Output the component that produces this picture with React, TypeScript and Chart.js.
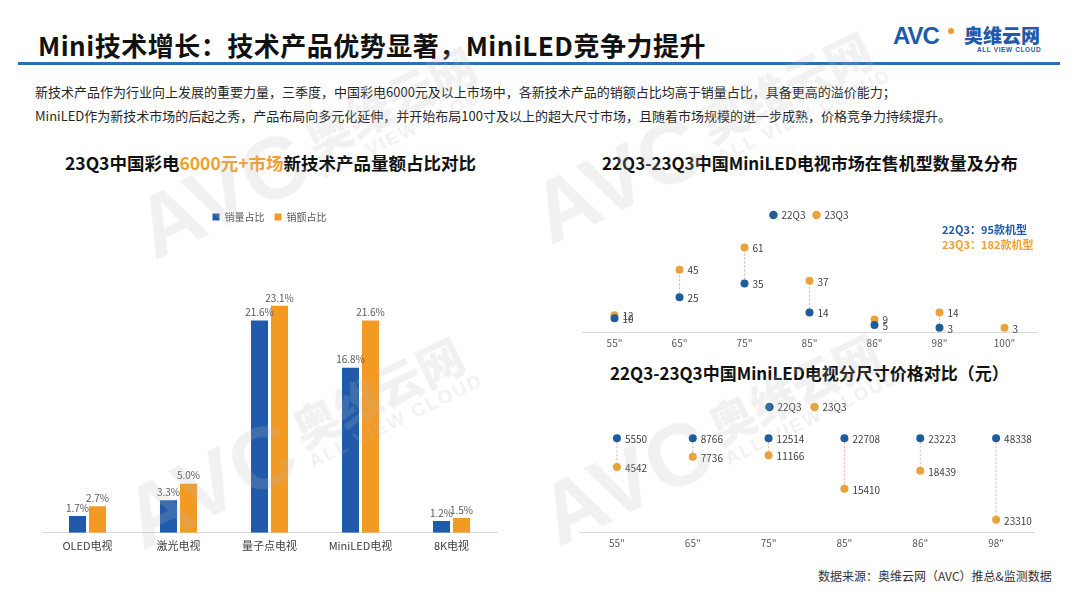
import React, { useEffect, useRef } from 'react';
import { Chart, registerables } from 'chart.js';

Chart.register(...registerables);

const FONT = "'Noto Sans CJK SC', 'Noto Sans', sans-serif";

// ---- Left chart: 23Q3 share of new-tech products in 6000+ yuan market ----
const barCategories = ['OLED电视', '激光电视', '量子点电视', 'MiniLED电视', '8K电视'];
const barSeriesNames = ['销量占比', '销额占比'];
const volumeShare = [1.7, 3.3, 21.6, 16.8, 1.2];
const valueShare = [2.7, 5.0, 23.1, 21.6, 1.5];

// ---- Right top: MiniLED model counts by size ----
const periodNames = ['22Q3', '23Q3'];
const countSizes = ['55"', '65"', '75"', '85"', '86"', '98"', '100"'];
const count22Q3 = [10, 25, 35, 14, 5, 3, null];
const count23Q3 = [12, 45, 61, 37, 9, 14, 3];
const modelTotals = ['22Q3：95款机型', '23Q3：182款机型'];

// ---- Right bottom: MiniLED price by size ----
const priceSizes = ['55"', '65"', '75"', '85"', '86"', '98"'];
const price22Q3 = [5550, 8766, 12514, 22708, 23223, 48338];
const price23Q3 = [4542, 7736, 11166, 15410, 18439, 23310];

const BLUE = '#1F5BAA';
const ORANGE = '#F29A22';
const DOT_BLUE = '#1E5C9C';
const DOT_ORANGE = '#E8A33C';

const barLabelPlugin = {
  id: 'barLabels',
  afterDatasetsDraw(chart: any) {
    const ctx = chart.ctx;
    ctx.save();
    ctx.font = `10px ${FONT}`;
    ctx.fillStyle = '#595959';
    ctx.textAlign = 'center';
    ctx.textBaseline = 'bottom';
    chart.data.datasets.forEach((ds: any, di: number) => {
      chart.getDatasetMeta(di).data.forEach((el: any, i: number) => {
        const v = ds.data[i];
        if (v == null) return;
        ctx.fillText(Number(v).toFixed(1) + '%', el.x, el.y - 3);
      });
    });
    ctx.restore();
  },
};

const pointLabelPlugin = {
  id: 'pointLabels',
  afterDatasetsDraw(chart: any) {
    const ctx = chart.ctx;
    ctx.save();
    ctx.font = `10px ${FONT}`;
    ctx.fillStyle = '#404040';
    ctx.textAlign = 'left';
    ctx.textBaseline = 'middle';
    chart.data.datasets.forEach((ds: any, di: number) => {
      chart.getDatasetMeta(di).data.forEach((el: any, i: number) => {
        const lab = ds.labelValues ? ds.labelValues[i] : ds.data[i];
        if (lab == null || el.skip) return;
        ctx.fillText(String(lab), el.x + 8, el.y + 1);
      });
    });
    ctx.restore();
  },
};

const connectorPlugin = {
  id: 'connectors',
  beforeDatasetsDraw(chart: any) {
    const a = chart.getDatasetMeta(0).data;
    const b = chart.getDatasetMeta(1).data;
    const ctx = chart.ctx;
    ctx.save();
    ctx.strokeStyle = '#F0A8A8';
    ctx.lineWidth = 1;
    ctx.setLineDash([2, 2]);
    a.forEach((p: any, i: number) => {
      const q = b[i];
      if (!p || !q || p.skip || q.skip) return;
      ctx.beginPath();
      ctx.moveTo(p.x, p.y);
      ctx.lineTo(q.x, q.y);
      ctx.stroke();
    });
    ctx.restore();
  },
};

function barConfig(): any {
  return {
    type: 'bar',
    data: {
      labels: barCategories,
      datasets: [
        { label: barSeriesNames[0], data: volumeShare, backgroundColor: BLUE, categoryPercentage: 0.44, barPercentage: 0.85 },
        { label: barSeriesNames[1], data: valueShare, backgroundColor: ORANGE, categoryPercentage: 0.44, barPercentage: 0.85 },
      ],
    },
    options: {
      animation: false,
      responsive: true,
      maintainAspectRatio: false,
      layout: { padding: { left: 12, right: 13, top: 0, bottom: 2 } },
      plugins: {
        legend: {
          position: 'top',
          labels: { boxWidth: 7, boxHeight: 7, padding: 10, color: '#595959', font: { size: 10, family: FONT } },
        },
        tooltip: { enabled: false },
      },
      scales: {
        x: {
          grid: { display: false, drawTicks: false },
          border: { display: true, color: '#D9D9D9' },
          ticks: { color: '#404040', padding: 6, font: { size: 11, family: FONT } },
        },
        y: { display: false, min: 0, max: 30.6 },
      },
    },
    plugins: [barLabelPlugin],
  };
}

function dotConfig(labels: string[], d0: any[], d1: any[], l0: any, l1: any, yMin: number, yMax: number, pad: any, legendPad: number): any {
  return {
    type: 'line',
    data: {
      labels,
      datasets: [
        { label: periodNames[0], data: d0, labelValues: l0, showLine: false, pointRadius: 4, pointHoverRadius: 4, pointBorderWidth: 0, backgroundColor: DOT_BLUE, borderColor: DOT_BLUE, pointBackgroundColor: DOT_BLUE },
        { label: periodNames[1], data: d1, labelValues: l1, showLine: false, pointRadius: 4, pointHoverRadius: 4, pointBorderWidth: 0, backgroundColor: DOT_ORANGE, borderColor: DOT_ORANGE, pointBackgroundColor: DOT_ORANGE },
      ],
    },
    options: {
      animation: false,
      responsive: true,
      maintainAspectRatio: false,
      layout: { padding: pad },
      plugins: {
        legend: {
          position: 'top',
          labels: { usePointStyle: true, pointStyle: 'circle', boxWidth: 6, boxHeight: 6, padding: legendPad, color: '#404040', font: { size: 10, family: FONT } },
        },
        tooltip: { enabled: false },
      },
      scales: {
        x: {
          offset: true,
          grid: { display: false, drawTicks: false },
          border: { display: true, color: '#D9D9D9' },
          ticks: { color: '#595959', padding: 5, font: { size: 10, family: FONT } },
        },
        y: { display: false, min: yMin, max: yMax },
      },
    },
    plugins: [connectorPlugin, pointLabelPlugin],
  };
}

function ChartBox({ left, top, width, height, make }: any) {
  const ref = useRef<HTMLCanvasElement>(null);
  useEffect(() => {
    const chart = new Chart(ref.current as HTMLCanvasElement, make());
    return () => chart.destroy();
  }, []);
  return (
    <div style={{ position: 'absolute', left, top, width, height }}>
      <canvas ref={ref} />
    </div>
  );
}

function Watermark({ cx, cy }: any) {
  return (
    <div
      style={{
        position: 'absolute',
        left: cx,
        top: cy,
        transform: 'translate(-50%, -50%) rotate(-26deg)',
        color: 'rgba(185,185,185,0.2)',
        whiteSpace: 'nowrap',
        pointerEvents: 'none',
        display: 'flex',
        alignItems: 'center',
        fontFamily: FONT,
      }}
    >
      <span style={{ fontSize: 88, fontWeight: 900, fontFamily: "'Liberation Sans', sans-serif", lineHeight: 1 }}>AVC</span>
      <div style={{ marginLeft: 10, display: 'flex', flexDirection: 'column' }}>
        <span style={{ fontSize: 46, fontWeight: 900, lineHeight: 1.1 }}>奥维云网</span>
        <span style={{ fontSize: 19, fontWeight: 700, letterSpacing: 2, fontFamily: "'Liberation Sans', sans-serif" }}>ALL VIEW CLOUD</span>
      </div>
    </div>
  );
}

const abs = (left: number, top: number, extra: any = {}) => ({ position: 'absolute' as const, left, top, whiteSpace: 'nowrap' as const, ...extra });

export default function App() {
  // price of each size relative to its 22Q3 price (vertical placement used by the reference chart)
  const priceRel22 = price22Q3.map((v, i) => v / price22Q3[i]);
  const priceRel23 = price23Q3.map((v, i) => v / price22Q3[i]);

  return (
    <div style={{ position: 'absolute', left: 0, top: 0, width: 1080, height: 608, background: '#FFFFFF', overflow: 'hidden', fontFamily: FONT, color: '#262626' }}>
      {/* header */}
      <div style={abs(38, 30, { fontSize: 26, fontWeight: 700, lineHeight: '30px', color: '#111', letterSpacing: 0.5 })}>
        Mini技术增长：技术产品优势显著，MiniLED竞争力提升
      </div>
      <div style={abs(893, 23, { fontSize: 24, fontWeight: 900, lineHeight: '26px', color: BLUE, fontFamily: "'Liberation Sans', sans-serif", letterSpacing: -1 })}>AVC</div>
      <div style={abs(948, 28, { width: 6, height: 6, borderRadius: 3, background: ORANGE })} />
      <div style={abs(964, 24, { fontSize: 19, fontWeight: 900, lineHeight: '22px', color: BLUE })}>奥维云网</div>
      <div style={abs(977, 46, { fontSize: 6.5, fontWeight: 700, lineHeight: '8px', color: BLUE, fontFamily: "'Liberation Sans', sans-serif", letterSpacing: 0.6 })}>ALL VIEW CLOUD</div>
      <div style={abs(18, 62, { width: 1042, height: 3, background: '#2F6EB5' })} />

      <div style={abs(35, 82, { fontSize: 13, lineHeight: '20px' })}>
        新技术产品作为行业向上发展的重要力量，三季度，中国彩电6000元及以上市场中，各新技术产品的销额占比均高于销量占比，具备更高的溢价能力；
      </div>
      <div style={abs(35, 106, { fontSize: 13, lineHeight: '20px' })}>
        MiniLED作为新技术市场的后起之秀，产品布局向多元化延伸，并开始布局100寸及以上的超大尺寸市场，且随着市场规模的进一步成熟，价格竞争力持续提升。
      </div>

      {/* chart titles */}
      <div style={abs(65, 151, { fontSize: 17.5, fontWeight: 700, lineHeight: '24px', color: '#111' })}>
        23Q3中国彩电<span style={{ color: '#F0A030' }}>6000元+市场</span>新技术产品量额占比对比
      </div>
      <div style={abs(602, 151, { fontSize: 17, fontWeight: 700, lineHeight: '24px', color: '#111' })}>
        22Q3-23Q3中国MiniLED电视市场在售机型数量及分布
      </div>
      <div style={abs(610, 361, { fontSize: 17, fontWeight: 700, lineHeight: '24px', color: '#111' })}>
        22Q3-23Q3中国MiniLED电视分尺寸价格对比（元）
      </div>

      <ChartBox left={30} top={202} width={480} height={358} make={barConfig} />
      <ChartBox
        left={570}
        top={202}
        width={480}
        height={156}
        make={() => dotConfig(countSizes, count22Q3, count23Q3, null, null, 0, 73.6, { left: 12, right: 13, top: 0, bottom: 4 }, 8)}
      />
      <ChartBox
        left={570}
        top={392}
        width={480}
        height={170}
        make={() => dotConfig(priceSizes, priceRel22, priceRel23, price22Q3, price23Q3, 0.4045, 1.1036, { left: 9, right: 16, top: 0, bottom: 8 }, 10)}
      />

      <div style={abs(942, 222, { fontSize: 11, fontWeight: 700, lineHeight: '14px', color: BLUE })}>{modelTotals[0]}</div>
      <div style={abs(942, 237, { fontSize: 11, fontWeight: 700, lineHeight: '14px', color: '#F0A030' })}>{modelTotals[1]}</div>

      <div style={abs(818, 568, { fontSize: 12, lineHeight: '16px', color: '#333' })}>数据来源：奥维云网（AVC）推总&监测数据</div>

      <Watermark cx={312} cy={150} />
      <Watermark cx={300} cy={440} />
      <Watermark cx={708} cy={135} />
      <Watermark cx={716} cy={437} />
    </div>
  );
}
